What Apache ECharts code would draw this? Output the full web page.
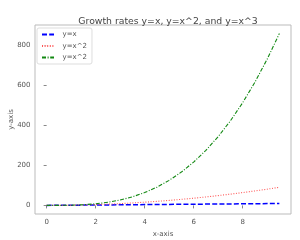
<!DOCTYPE html>
<html>
<head>
<meta charset="utf-8">
<script src="https://cdn.jsdelivr.net/npm/echarts@6/dist/echarts.min.js"></script>
<style>html,body{margin:0;padding:0;background:#fff;}#c{width:300px;height:240px;}</style>
</head>
<body>
<div id="c"></div>
<script>
const xValues = [0,0.5,1,1.5,2,2.5,3,3.5,4,4.5,5,5.5,6,6.5,7,7.5,8,8.5,9,9.5];
const yLinear = [0,0.5,1,1.5,2,2.5,3,3.5,4,4.5,5,5.5,6,6.5,7,7.5,8,8.5,9,9.5];
const ySquare = [0,0.25,1,2.25,4,6.25,9,12.25,16,20.25,25,30.25,36,42.25,49,56.25,64,72.25,81,90.25];
const yCube = [0,0.125,1,3.375,8,15.625,27,42.875,64,91.125,125,166.375,216,274.625,343,421.875,512,614.125,729,857.375];
const seriesIds = ['lin', 'sq', 'cube'];
const legendLabels = ['y=x', 'y=x^2', 'y=x^2'];
const xTicks = [0,2,4,6,8];
const yTicks = [0,200,400,600,800];
const titleText = 'Growth rates y=x, y=x^2, and y=x^3';

const pairs = ys => xValues.map((x, i) => [x, ys[i]]);
const font = 'DejaVu Sans';
const chart = echarts.init(document.getElementById('c'), null, {renderer: 'canvas'});
chart.setOption({
  animation: false,
  textStyle: {fontFamily: font},
  title: {
    text: titleText, left: 163, top: 12, textAlign: 'center',
    textStyle: {fontFamily: font, fontSize: 9.3, fontWeight: 'normal', color: '#444'}
  },
  grid: {left: 35, right: 9, top: 25, bottom: 26, show: true, borderColor: '#bbb', borderWidth: 1,
         backgroundColor: '#fff', outerBoundsMode: 'none', containLabel: false},
  legend: {
    orient: 'vertical', left: 37, top: 28,
    data: seriesIds,
    formatter: name => legendLabels[seriesIds.indexOf(name)],
    itemWidth: 12, itemHeight: 8, itemGap: 4.5,
    padding: [3, 5, 3, 4],
    itemStyle: {color: 'transparent', borderColor: 'transparent', borderWidth: 0, opacity: 0},
    borderColor: '#ddd', borderWidth: 1, borderRadius: 2, backgroundColor: 'rgba(255,255,255,0.8)',
    textStyle: {fontFamily: font, fontSize: 7, color: '#555', padding: [0,0,0,3.5]}
  },
  xAxis: {
    type: 'value', min: -0.475, max: 9.975,
    name: 'x-axis', nameLocation: 'middle', nameGap: 17, nameMoveOverlap: false,
    nameTextStyle: {fontFamily: font, fontSize: 7, color: '#555'},
    axisLine: {show: false},
    splitLine: {show: false},
    axisTick: {show: true, length: 3, customValues: xTicks, lineStyle: {color: '#888'}},
    axisLabel: {customValues: xTicks, fontFamily: font, fontSize: 7, color: '#555', margin: 4.5}
  },
  yAxis: {
    type: 'value', min: -42.87, max: 900.24,
    name: 'y-axis', nameLocation: 'middle', nameGap: 20, nameRotate: 90, nameMoveOverlap: false,
    nameTextStyle: {fontFamily: font, fontSize: 7, color: '#555'},
    axisLine: {show: false},
    splitLine: {show: false},
    axisTick: {show: true, length: 3, customValues: yTicks, lineStyle: {color: '#888'}},
    axisLabel: {customValues: yTicks, fontFamily: font, fontSize: 7, color: '#555', margin: 4.5}
  },
  series: [
    {name: seriesIds[0], type: 'line', data: pairs(yLinear), showSymbol: false, symbol: 'none',
     itemStyle: {color: '#0000ff'}, lineStyle: {color: '#0000ff', width: 1.5, type: [5, 2.2]}},
    {name: seriesIds[1], type: 'line', data: pairs(ySquare), showSymbol: false, symbol: 'none',
     itemStyle: {color: '#ff5555'}, lineStyle: {color: '#ff5555', width: 1.1, type: [1, 1.6]}},
    {name: seriesIds[2], type: 'line', data: pairs(yCube), showSymbol: false, symbol: 'none',
     itemStyle: {color: '#118811'}, lineStyle: {color: '#118811', width: 1.1, type: [4, 1.6, 1, 1.6]}}
  ]
});
</script>
</body>
</html>
